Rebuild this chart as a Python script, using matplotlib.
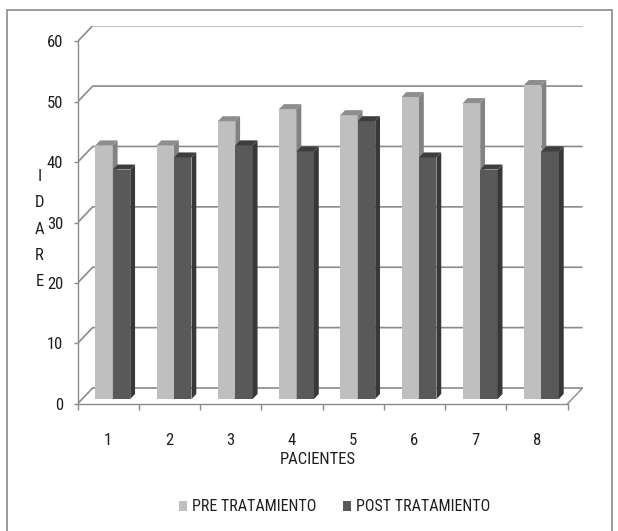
import numpy as np
import matplotlib
matplotlib.use("Agg")
import matplotlib.pyplot as plt
from matplotlib import font_manager
from matplotlib.patches import Patch, Rectangle

# prefer a narrow sans face if one is installed
installed = {f.name for f in font_manager.fontManager.ttflist}
narrow = [f for f in ["Liberation Sans Narrow", "Roboto Condensed", "Open Sans Condensed",
                      "Noto Sans Condensed", "DejaVu Sans Condensed"] if f in installed]
plt.rcParams["font.family"] = narrow + ["Liberation Sans", "DejaVu Sans"]
FS = 12 if narrow else 11
plt.rcParams["font.size"] = FS

# ---------------
# Data
# ---------------
pacientes = ["1", "2", "3", "4", "5", "6", "7", "8"]
pre_tratamiento = [42, 42, 46, 48, 47, 50, 49, 52]
post_tratamiento = [38, 40, 42, 41, 46, 40, 38, 41]
y_ticks = [0, 10, 20, 30, 40, 50, 60]
series_names = ["PRE TRATAMIENTO", "POST TRATAMIENTO"]

# ---------------
# Style
# ---------------
GRID = "#8a8a8a"
TEXT = "#1e1e1e"
PRE_COLORS = ("#bfbfbf", "#8e8e8e", "#828282")    # front, top, side
POST_COLORS = ("#595959", "#3e3e3e", "#383838")

# oblique depth of the chart box (data units)
DEPTH_X = 0.245
DEPTH_Y = 2.6
BAR_FRONT = 0.30   # bars start this far into the depth
BAR_BACK = 0.62
BAR_W = 0.285

n = len(pacientes)

fig = plt.figure(figsize=(6.18, 5.31), dpi=100)
ax = fig.add_axes([0.1257, 0.2397, 0.817, 0.7119])
ax.set_xlim(0, n + DEPTH_X)
ax.set_ylim(0, y_ticks[-1] + DEPTH_Y)

# back wall and side wall gridlines
for v in y_ticks:
    ax.plot([0, DEPTH_X, n + DEPTH_X], [v, v + DEPTH_Y, v + DEPTH_Y],
            color=GRID, lw=1.2, zorder=1, solid_capstyle="butt")
ax.plot([n, n + DEPTH_X], [0, DEPTH_Y], color=GRID, lw=1.0, zorder=1)


def draw_bars(values, offset, colors):
    front, top, side = colors
    x0 = np.arange(n) + 0.5 + offset + BAR_FRONT * DEPTH_X
    base = BAR_FRONT * DEPTH_Y
    dx = (BAR_BACK - BAR_FRONT) * DEPTH_X
    dy = (BAR_BACK - BAR_FRONT) * DEPTH_Y
    ax.bar(x0, values, width=BAR_W, bottom=base, align="edge",
           color=front, linewidth=0, zorder=3)
    for x, v in zip(x0, values):
        yt = base + v
        ax.fill([x, x + dx, x + BAR_W + dx, x + BAR_W],
                [yt, yt + dy, yt + dy, yt], color=top, lw=0, zorder=3)
        ax.fill([x + BAR_W, x + BAR_W + dx, x + BAR_W + dx, x + BAR_W],
                [base, base + dy, yt + dy, yt], color=side, lw=0, zorder=3)


draw_bars(pre_tratamiento, -BAR_W, PRE_COLORS)
draw_bars(post_tratamiento, 0, POST_COLORS)

# ---------------
# Axes
# ---------------
for s in ["top", "right"]:
    ax.spines[s].set_visible(False)
ax.spines["left"].set_bounds(0, y_ticks[-1])
ax.spines["bottom"].set_bounds(0, n)
for s in ["left", "bottom"]:
    ax.spines[s].set_color(GRID)
    ax.spines[s].set_linewidth(1.0)

ax.set_yticks(y_ticks)
ax.tick_params(axis="y", direction="out", length=3, width=1, color=GRID,
               pad=7.5, labelcolor=TEXT, labelsize=FS)
ax.set_xticks(np.arange(n + 1))
ax.set_xticklabels([])
ax.set_xticks(np.arange(n) + 0.5, minor=True)
ax.set_xticklabels(pacientes, minor=True)
ax.tick_params(axis="x", which="major", direction="out", length=4, width=1, color=GRID)
ax.tick_params(axis="x", which="minor", length=0, pad=21, labelcolor=TEXT, labelsize=FS)

ax.set_xlabel("PACIENTES", color=TEXT, fontsize=FS)
ax.xaxis.set_label_coords(0.476, -0.127)
ax.set_ylabel("I\nD\nA\nR\nE", rotation=0, ha="center", va="center",
              color=TEXT, fontsize=FS, linespacing=1.95)
ax.yaxis.set_label_coords(-0.0757, 0.462)

# ---------------
# Legend
# ---------------
handles = [Patch(facecolor=PRE_COLORS[0]), Patch(facecolor=POST_COLORS[0])]
fig.legend(handles, series_names, loc="center", bbox_to_anchor=(0.5415, 0.0452),
           ncol=2, frameon=False, fontsize=FS - 0.5, handlelength=0.5, handleheight=0.6,
           handletextpad=0.3, columnspacing=1.7, labelcolor=TEXT)

# chart border
fig.patches.append(Rectangle((7 / 618, -0.02), 605 / 618, 1 - 9.5 / 531 + 0.02,
                             transform=fig.transFigure, fill=False,
                             edgecolor=GRID, linewidth=1.2))

fig.savefig("out.png", dpi=100)
